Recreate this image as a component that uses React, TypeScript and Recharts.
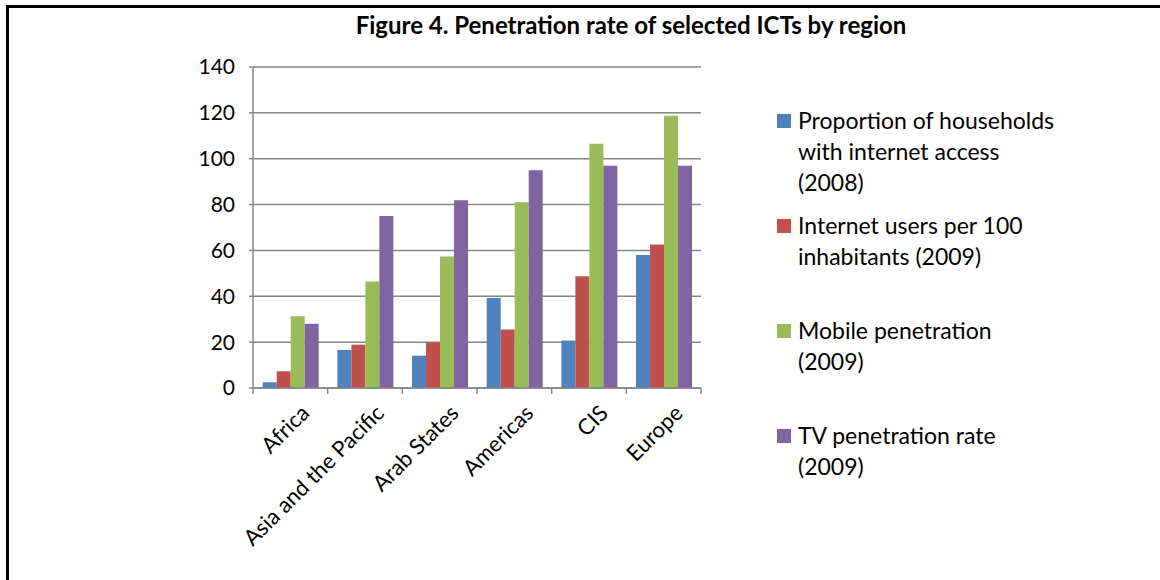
import React from 'react';
import { Bar, BarChart, CartesianGrid, XAxis, YAxis } from 'recharts';

const regions = ['Africa', 'Asia and the Pacific', 'Arab States', 'Americas', 'CIS', 'Europe'];
const householdsInternet = [2.5, 16.6, 14.1, 39.2, 20.7, 58.0];
const internetUsers = [7.3, 18.9, 19.8, 25.5, 48.7, 62.6];
const mobilePenetration = [31.3, 46.5, 57.4, 81.0, 106.5, 118.7];
const tvPenetration = [28.0, 75.0, 81.9, 95.0, 96.9, 96.9];
const yTicks = [0, 20, 40, 60, 80, 100, 120, 140];

const series = [
  { key: 'households', color: '#4F81BD', lines: ['Proportion of households', 'with internet access', '(2008)'] },
  { key: 'users', color: '#C0504D', lines: ['Internet users per 100', 'inhabitants (2009)'] },
  { key: 'mobile', color: '#9BBB59', lines: ['Mobile penetration', '(2009)'] },
  { key: 'tv', color: '#8064A2', lines: ['TV penetration rate', '(2009)'] },
];

const data = regions.map((region, i) => ({
  region,
  households: householdsInternet[i],
  users: internetUsers[i],
  mobile: mobilePenetration[i],
  tv: tvPenetration[i],
}));

const FONT = 'Lato, "Open Sans", sans-serif';
const GRID = '#868686';

const RegionTick = (props: any) => {
  const { x, y, payload, index } = props;
  const half = payload?.offset ?? 0;
  return (
    <g>
      <line x1={x - half} y1={y} x2={x - half} y2={y + 6} stroke={GRID} strokeWidth={1.5} />
      {index === regions.length - 1 && (
        <line x1={x + half} y1={y} x2={x + half} y2={y + 6} stroke={GRID} strokeWidth={1.5} />
      )}
      <text
        transform={`translate(${x + 8}, ${y + 14}) rotate(-45)`}
        textAnchor="end"
        dominantBaseline="hanging"
        fontSize={22}
        fontFamily={FONT}
        fill="#000"
      >
        {payload.value}
      </text>
    </g>
  );
};

const LegendBox = () => (
  <div style={{ fontFamily: FONT, fontSize: 23, color: '#000', lineHeight: '31px' }}>
    {series.map((s) => (
      <div key={s.key} style={{ position: 'relative', height: 105, paddingLeft: 21 }}>
        <span
          style={{
            position: 'absolute',
            left: 0,
            top: 9,
            width: 14,
            height: 14,
            background: s.color,
          }}
        />
        {s.lines.map((l) => (
          <div key={l}>{l}</div>
        ))}
      </div>
    ))}
  </div>
);

export default function App() {
  return (
    <div style={{ position: 'absolute', left: 0, top: 0, width: 1160, height: 580, background: '#fff', overflow: 'hidden' }}>
      <div
        style={{
          position: 'absolute',
          left: 6,
          top: 5,
          width: 1200,
          height: 600,
          borderTop: '3px solid #000',
          borderLeft: '3px solid #000',
        }}
      />
      <div
        style={{
          position: 'absolute',
          left: 331,
          width: 600,
          top: 10,
          textAlign: 'center',
          fontFamily: FONT,
          fontWeight: 'bold',
          fontSize: 24,
          color: '#000',
        }}
      >
        Figure 4. Penetration rate of selected ICTs by region
      </div>
      <div style={{ position: 'absolute', left: 777, top: 105, width: 370 }}>
        <LegendBox />
      </div>
      <div style={{ position: 'absolute', left: 0, top: 0 }}>
        <BarChart
          width={1160}
          height={580}
          data={data}
          margin={{ top: 67, right: 459, left: 203, bottom: 42 }}
          barCategoryGap="13%"
          barGap={0}
        >
          <CartesianGrid vertical={false} stroke={GRID} strokeWidth={1.5} />
          <XAxis
            dataKey="region"
            interval={0}
            height={150}
            tickSize={0}
            tickLine={false}
            tickMargin={0}
            axisLine={{ stroke: GRID, strokeWidth: 1.5 }}
            tick={<RegionTick />}
          />
          <YAxis
            width={50}
            domain={[0, 140]}
            ticks={yTicks}
            interval={0}
            tickSize={4}
            tickMargin={14}
            tickLine={{ stroke: GRID, strokeWidth: 1.5 }}
            axisLine={{ stroke: GRID, strokeWidth: 1.5 }}
            tick={{ fontSize: 21, fontFamily: FONT, fill: '#000' }}
          />
          {series.map((s) => (
            <Bar key={s.key} dataKey={s.key} fill={s.color} isAnimationActive={false} />
          ))}
        </BarChart>
      </div>
    </div>
  );
}
